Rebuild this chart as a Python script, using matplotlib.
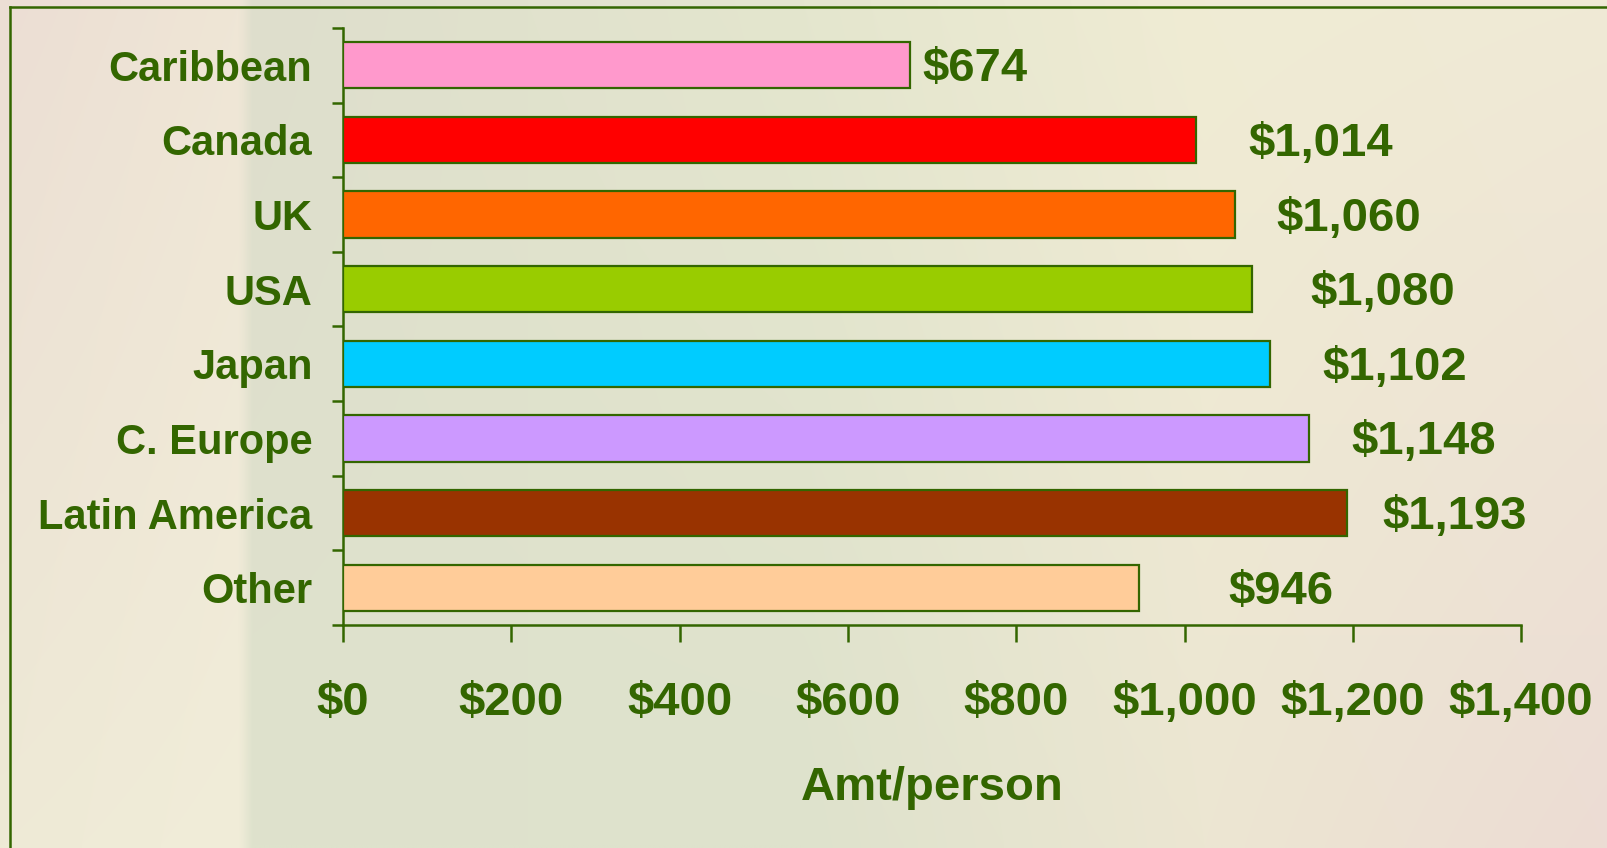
import numpy as np
import matplotlib.pyplot as plt
from matplotlib.lines import Line2D

regions = ['Caribbean', 'Canada', 'UK', 'USA', 'Japan', 'C. Europe', 'Latin America', 'Other']
amounts = [674, 1014, 1060, 1080, 1102, 1148, 1193, 946]
bar_colors = ['#FF99CC', '#FF0000', '#FF6600', '#99CC00', '#00CCFF', '#CC99FF', '#993300', '#FFCC99']
x_ticks = [0, 200, 400, 600, 800, 1000, 1200, 1400]

# gap (pixels) between bar end and its value label, as placed in the original slide
label_gap = [12, 52, 41, 59, 52, 42, 35, 89]

GREEN = '#336600'

plt.rcParams['font.family'] = ['Liberation Sans', 'DejaVu Sans']
plt.rcParams['font.weight'] = 'bold'
plt.rcParams['axes.labelweight'] = 'bold'

fig = plt.figure(figsize=(16.08, 8.48), dpi=100)

# slide background: soft gradient, lighter band on the left
bg = fig.add_axes([0, 0, 1, 1], zorder=-10)
bg.set_axis_off()
xs = np.linspace(0, 1, 321)
stops = [0.0, 0.148, 0.156, 0.5, 0.75, 1.0]
top = np.array([(236, 222, 212), (239, 230, 214), (222, 222, 204), (228, 230, 206), (240, 236, 212), (240, 234, 214)])
bottom = np.array([(238, 234, 214), (241, 237, 217), (222, 226, 204), (222, 226, 204), (236, 230, 210), (236, 220, 212)])
rows = []
for t in np.linspace(0, 1, 170):
    cols = top * (1 - t) + bottom * t
    rows.append(np.stack([np.interp(xs, stops, cols[:, c]) for c in range(3)], axis=-1))
img = np.array(rows) / 255.0
bg.imshow(img, aspect='auto', extent=[0, 1, 0, 1], interpolation='bilinear')
bg.set_xlim(0, 1)
bg.set_ylim(0, 1)

# slide frame (left and top edges)
fx = 10 / 1608
fy = 1 - 7 / 848
fig.add_artist(Line2D([fx, fx], [0, fy], color=GREEN, lw=1.8, transform=fig.transFigure))
fig.add_artist(Line2D([fx, 1], [fy, fy], color=GREEN, lw=1.8, transform=fig.transFigure))

ax = fig.add_axes([0.2133, 0.263, 0.7327, 0.704])
ax.patch.set_alpha(0)

y = np.arange(len(regions))
ax.barh(y, amounts, height=0.62, color=bar_colors, edgecolor=GREEN, linewidth=1.6, zorder=3)

ax.set_xlim(0, 1400)
ax.set_ylim(len(regions) - 0.5, -0.5)

ax.set_yticks(y, regions)
ax.set_yticks(np.arange(-0.5, len(regions), 1), minor=True)
ax.tick_params(axis='y', which='major', length=0, pad=22, labelsize=30, labelcolor=GREEN)
ax.tick_params(axis='y', which='minor', length=8, width=1.8, color=GREEN, direction='out')

ax.set_xticks(x_ticks, [f'${v:,}' for v in x_ticks])
ax.tick_params(axis='x', length=12, width=1.8, color=GREEN, pad=28, labelsize=34, labelcolor=GREEN)

for side in ['top', 'right']:
    ax.spines[side].set_visible(False)
for side in ['left', 'bottom']:
    ax.spines[side].set_color(GREEN)
    ax.spines[side].set_linewidth(1.8)

for i, (v, gap) in enumerate(zip(amounts, label_gap)):
    ax.annotate(f'${v:,}', xy=(v, i), xytext=(gap, -4), textcoords='offset pixels',
                ha='left', va='center', fontsize=34, color=GREEN, fontweight='bold')

ax.set_xlabel('Amt/person', fontsize=34, color=GREEN, fontweight='bold', labelpad=30)

fig.savefig('out.png', dpi=100)
